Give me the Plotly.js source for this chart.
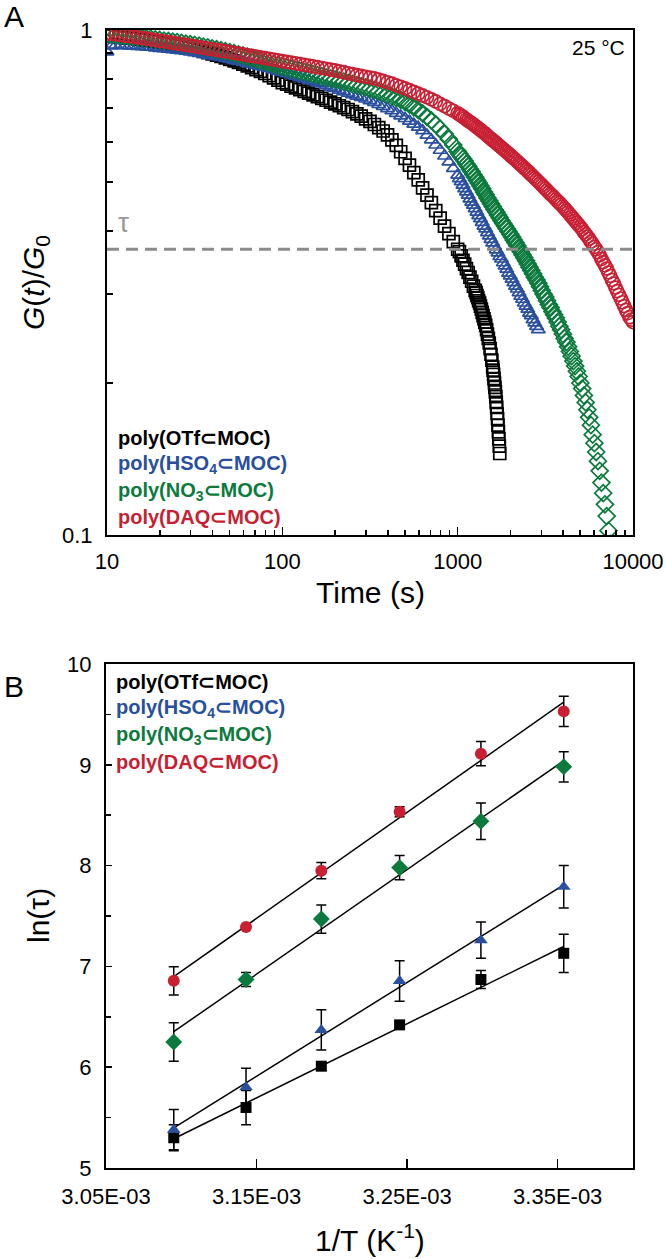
<!DOCTYPE html>
<html>
<head>
<meta charset="utf-8">
<script src="https://cdn.plot.ly/plotly-3.0.1.min.js"></script>
<style>html,body{margin:0;padding:0;background:#fff;}#chart{width:666px;height:1259px;}</style>
</head>
<body>
<div id="chart"></div>
<script>
// ---------- Panel A data: G(t)/G0 vs time (s), 25 °C ----------
// sampling times, 10 s .. 1000 s
const timeEarly = [10, 10.59, 11.22, 11.89, 12.59, 13.34, 14.13, 14.96, 15.85, 16.79,
  17.78, 18.84, 19.95, 21.13, 22.39, 23.71, 25.12, 26.61, 28.18, 29.85,
  31.62, 33.5, 35.48, 37.58, 39.81, 42.17, 44.67, 47.32, 50.12, 53.09,
  56.23, 59.57, 63.1, 66.83, 70.79, 74.99, 79.43, 84.14, 89.13, 94.41,
  100, 105.9, 112.2, 118.9, 125.9, 133.4, 141.3, 149.6, 158.5, 167.9,
  177.8, 188.4, 199.5, 211.3, 223.9, 237.1, 251.2, 266.1, 281.8, 298.5,
  316.2, 335, 354.8, 375.8, 398.1, 421.7, 446.7, 473.2, 501.2, 530.9,
  562.3, 595.7, 631, 668.3, 707.9, 749.9, 794.3, 841.4, 891.3, 944.1,
  1000];
// sampling times, 1023 s .. 10000 s
const timeLate = [1023, 1047, 1072, 1096, 1122, 1148, 1175, 1202, 1230, 1259,
  1288, 1318, 1349, 1380, 1413, 1445, 1479, 1514, 1549, 1585,
  1622, 1660, 1698, 1738, 1778, 1820, 1862, 1905, 1950, 1995,
  2042, 2089, 2138, 2188, 2239, 2291, 2344, 2399, 2455, 2512,
  2570, 2630, 2692, 2754, 2818, 2884, 2951, 3020, 3090, 3162,
  3236, 3311, 3388, 3467, 3548, 3631, 3715, 3802, 3890, 3981,
  4074, 4169, 4266, 4365, 4467, 4571, 4677, 4786, 4898, 5012,
  5129, 5248, 5370, 5495, 5623, 5754, 5888, 6026, 6166, 6310,
  6457, 6607, 6761, 6918, 7079, 7244, 7413, 7586, 7762, 7943,
  8128, 8318, 8511, 8710, 8913, 9120, 9333, 9550, 9772, 10000];

const gOTfEarly = [0.975, 0.972, 0.970, 0.968, 0.966, 0.964, 0.962, 0.960, 0.957, 0.955,
  0.953, 0.950, 0.946, 0.943, 0.940, 0.937, 0.933, 0.929, 0.925, 0.921,
  0.916, 0.912, 0.907, 0.902, 0.897, 0.892, 0.887, 0.881, 0.875, 0.869,
  0.863, 0.856, 0.849, 0.842, 0.835, 0.828, 0.820, 0.812, 0.804, 0.796,
  0.787, 0.781, 0.774, 0.768, 0.762, 0.756, 0.750, 0.744, 0.738, 0.732,
  0.726, 0.720, 0.714, 0.708, 0.702, 0.696, 0.689, 0.682, 0.675, 0.667,
  0.659, 0.650, 0.641, 0.631, 0.620, 0.606, 0.591, 0.574, 0.557, 0.540,
  0.522, 0.505, 0.487, 0.471, 0.455, 0.439, 0.424, 0.409, 0.395, 0.381,
  0.368];
const gOTfLate = [0.364, 0.357, 0.350, 0.344, 0.337, 0.331, 0.324, 0.318, 0.311, 0.305];
// final steepening drop of poly(OTf⊂MOC), closely spaced samples
const timeOTfTail = [1274, 1288, 1303, 1318, 1334, 1349, 1365, 1380, 1396, 1413,
  1429, 1445, 1462, 1479, 1496, 1514, 1531, 1549, 1567, 1585,
  1594, 1603, 1612, 1622, 1631, 1641, 1650, 1660, 1669, 1679,
  1689, 1698, 1708, 1718, 1728, 1738];
const gOTfTail = [0.302, 0.298, 0.295, 0.291, 0.288, 0.284, 0.280, 0.276, 0.272, 0.268,
  0.264, 0.260, 0.255, 0.250, 0.245, 0.240, 0.234, 0.228, 0.222, 0.215,
  0.212, 0.208, 0.204, 0.200, 0.196, 0.192, 0.188, 0.183, 0.179, 0.174,
  0.170, 0.165, 0.160, 0.155, 0.150, 0.145];

const gHSO4Early = [0.905, 0.930, 0.933, 0.932, 0.931, 0.930, 0.929, 0.928, 0.927, 0.926,
  0.925, 0.922, 0.920, 0.918, 0.916, 0.914, 0.912, 0.910, 0.908, 0.905,
  0.902, 0.899, 0.895, 0.892, 0.889, 0.886, 0.883, 0.879, 0.875, 0.871,
  0.867, 0.863, 0.859, 0.855, 0.851, 0.847, 0.843, 0.839, 0.834, 0.829,
  0.824, 0.820, 0.815, 0.810, 0.805, 0.800, 0.796, 0.791, 0.787, 0.782,
  0.776, 0.771, 0.766, 0.760, 0.755, 0.750, 0.745, 0.740, 0.735, 0.730,
  0.725, 0.719, 0.712, 0.706, 0.699, 0.692, 0.684, 0.676, 0.668, 0.660,
  0.651, 0.642, 0.632, 0.619, 0.606, 0.592, 0.578, 0.563, 0.548, 0.532,
  0.516];
const gHSO4Late = [0.508, 0.501, 0.493, 0.485, 0.478, 0.471, 0.463, 0.456, 0.450, 0.443,
  0.436, 0.429, 0.423, 0.416, 0.409, 0.404, 0.397, 0.391, 0.385, 0.379,
  0.373, 0.367, 0.362, 0.356, 0.352, 0.346, 0.341, 0.336, 0.330, 0.326,
  0.321, 0.316, 0.311, 0.307, 0.302, 0.297, 0.293, 0.288, 0.284, 0.280,
  0.275, 0.272, 0.267, 0.263, 0.259, 0.255];

const gNO3Early = [0.982, 0.980, 0.978, 0.976, 0.974, 0.972, 0.970, 0.968, 0.966, 0.963,
  0.961, 0.958, 0.956, 0.953, 0.951, 0.948, 0.946, 0.943, 0.940, 0.937,
  0.934, 0.931, 0.927, 0.924, 0.920, 0.916, 0.912, 0.908, 0.904, 0.900,
  0.895, 0.891, 0.886, 0.881, 0.876, 0.871, 0.866, 0.861, 0.856, 0.851,
  0.846, 0.842, 0.838, 0.834, 0.830, 0.826, 0.822, 0.818, 0.814, 0.810,
  0.806, 0.802, 0.798, 0.794, 0.790, 0.786, 0.782, 0.778, 0.774, 0.770,
  0.765, 0.761, 0.756, 0.751, 0.745, 0.739, 0.733, 0.727, 0.720, 0.712,
  0.703, 0.694, 0.684, 0.673, 0.662, 0.650, 0.637, 0.623, 0.608, 0.592,
  0.575];
const gNO3Late = [0.568, 0.562, 0.556, 0.550, 0.543, 0.537, 0.530, 0.524, 0.517, 0.511,
  0.504, 0.498, 0.491, 0.485, 0.478, 0.472, 0.465, 0.459, 0.453, 0.447,
  0.441, 0.436, 0.430, 0.425, 0.419, 0.414, 0.409, 0.404, 0.399, 0.394,
  0.389, 0.384, 0.379, 0.374, 0.369, 0.364, 0.359, 0.354, 0.349, 0.344,
  0.339, 0.334, 0.329, 0.324, 0.320, 0.315, 0.310, 0.305, 0.300, 0.296,
  0.291, 0.286, 0.282, 0.277, 0.273, 0.269, 0.264, 0.259, 0.255, 0.250,
  0.245, 0.241, 0.236, 0.231, 0.226, 0.221, 0.216, 0.211, 0.206, 0.200,
  0.195, 0.189, 0.183, 0.177, 0.171, 0.165, 0.158, 0.152, 0.146, 0.140,
  0.134, 0.127, 0.121, 0.115, 0.109, 0.102, 0.096];

const gDAQEarly = [0.985, 0.983, 0.980, 0.978, 0.975, 0.973, 0.970, 0.967, 0.964, 0.961,
  0.958, 0.955, 0.952, 0.949, 0.946, 0.943, 0.940, 0.937, 0.934, 0.931,
  0.928, 0.925, 0.922, 0.919, 0.916, 0.913, 0.910, 0.907, 0.904, 0.901,
  0.898, 0.895, 0.892, 0.889, 0.886, 0.883, 0.880, 0.877, 0.874, 0.871,
  0.868, 0.865, 0.862, 0.859, 0.856, 0.853, 0.850, 0.847, 0.844, 0.841,
  0.838, 0.835, 0.832, 0.828, 0.825, 0.821, 0.818, 0.814, 0.811, 0.808,
  0.805, 0.802, 0.798, 0.793, 0.788, 0.783, 0.777, 0.772, 0.766, 0.760,
  0.754, 0.748, 0.742, 0.736, 0.729, 0.722, 0.714, 0.707, 0.699, 0.692,
  0.684];
const gDAQLate = [0.680, 0.677, 0.673, 0.669, 0.665, 0.661, 0.657, 0.654, 0.650, 0.646,
  0.642, 0.638, 0.634, 0.630, 0.626, 0.622, 0.617, 0.613, 0.609, 0.605,
  0.601, 0.597, 0.593, 0.589, 0.585, 0.581, 0.577, 0.573, 0.569, 0.565,
  0.561, 0.557, 0.553, 0.549, 0.545, 0.541, 0.537, 0.533, 0.529, 0.525,
  0.521, 0.517, 0.513, 0.509, 0.505, 0.501, 0.497, 0.493, 0.489, 0.485,
  0.481, 0.477, 0.473, 0.470, 0.466, 0.462, 0.458, 0.455, 0.451, 0.447,
  0.443, 0.439, 0.435, 0.431, 0.427, 0.423, 0.419, 0.415, 0.411, 0.407,
  0.403, 0.398, 0.394, 0.390, 0.386, 0.381, 0.377, 0.372, 0.368, 0.363,
  0.358, 0.352, 0.347, 0.342, 0.337, 0.331, 0.326, 0.320, 0.315, 0.309,
  0.304, 0.299, 0.294, 0.289, 0.284, 0.279, 0.275, 0.270, 0.267, 0.264];

const tauLevel = 0.368;
const timeSpan = [10, 10000];

// ---------- Panel B data: ln(tau) vs 1/T ----------
const invT = [0.003095, 0.003143, 0.003193, 0.003245, 0.003299, 0.003354];
const lnTauOTf  = [5.30, 5.60, 6.01, 6.42, 6.87, 7.13];
const errOTf    = [0.13, 0.17, 0.04, 0.03, 0.09, 0.19];
const lnTauHSO4 = [5.38, 5.80, 6.37, 6.855, 7.26, 7.79];
const errHSO4   = [0.20, 0.19, 0.20, 0.20, 0.18, 0.21];
const lnTauNO3  = [6.25, 6.87, 7.47, 7.98, 8.44, 8.98];
const errNO3    = [0.19, 0.07, 0.14, 0.12, 0.18, 0.15];
const lnTauDAQ  = [6.857, 7.39, 7.95, 8.535, 9.11, 9.53];
const errDAQ    = [0.14, 0.02, 0.08, 0.05, 0.12, 0.15];

const seriesNames = ['poly(OTf⊂MOC)', 'poly(HSO<sub>4</sub>⊂MOC)', 'poly(NO<sub>3</sub>⊂MOC)', 'poly(DAQ⊂MOC)'];
const xTickValsA = [10, 100, 1000, 10000];
const xTickTextA = ['10', '100', '1000', '10000'];
const yTickValsA = [0.1, 1];
const yTickTextA = ['0.1', '1'];
const xTickValsB = [0.00305, 0.00315, 0.00325, 0.00335];
const xTickTextB = ['3.05E-03', '3.15E-03', '3.25E-03', '3.35E-03'];
const yTickValsB = [5, 6, 7, 8, 9, 10];

// ---------- styling ----------
const W = 666, H = 1259;
const px = x => x / W;
const py = y => 1 - y / H;
const FONT = 'Liberation Sans, Arial, Helvetica, sans-serif';
const C = {black: '#000000', blue: '#2a4f9f', green: '#0b7a3c', red: '#c81f33'};
const colors = [C.black, C.blue, C.green, C.red];

function minorLog(decades) {
  const out = [];
  decades.forEach(d => { for (let k = 2; k <= 9; k++) out.push(k * d); });
  return out;
}

function openTrace(t, g, sym, color, size) {
  return {type: 'scatter', mode: 'markers', x: t, y: g, xaxis: 'x', yaxis: 'y',
    marker: {symbol: sym, size: size, color: color, line: {color: color, width: 1.7}},
    showlegend: false, hoverinfo: 'skip'};
}
const early = (g) => timeEarly.slice(0, g.length);
const late = (g) => timeLate.slice(0, g.length);

const traces = [];
traces.push(openTrace(early(gOTfEarly).concat(late(gOTfLate), timeOTfTail),
  gOTfEarly.concat(gOTfLate, gOTfTail), 'square-open', C.black, 12));
traces.push(openTrace(early(gHSO4Early).concat(late(gHSO4Late)),
  gHSO4Early.concat(gHSO4Late), 'triangle-up-open', C.blue, 12));
traces.push(openTrace(early(gNO3Early).concat(late(gNO3Late)),
  gNO3Early.concat(gNO3Late), 'diamond-open', C.green, 13));
traces.push(openTrace(early(gDAQEarly).concat(late(gDAQLate)),
  gDAQEarly.concat(gDAQLate), 'circle-open', C.red, 13));
traces.push({type: 'scatter', mode: 'lines', x: timeSpan, y: [tauLevel, tauLevel], xaxis: 'x', yaxis: 'y',
  line: {color: '#8c8c8c', width: 3, dash: '12px,7px'}, showlegend: false, hoverinfo: 'skip'});

// Panel B
function fit(x, y) {
  const n = x.length;
  const mx = x.reduce((a, b) => a + b, 0) / n;
  const my = y.reduce((a, b) => a + b, 0) / n;
  let sxy = 0, sxx = 0;
  for (let i = 0; i < n; i++) { sxy += (x[i] - mx) * (y[i] - my); sxx += (x[i] - mx) ** 2; }
  const m = sxy / sxx;
  return v => my + m * (v - mx);
}
const bSeries = [
  {y: lnTauOTf, e: errOTf, sym: 'square', size: 11},
  {y: lnTauHSO4, e: errHSO4, sym: 'triangle-up', size: 12},
  {y: lnTauNO3, e: errNO3, sym: 'diamond', size: 13},
  {y: lnTauDAQ, e: errDAQ, sym: 'circle', size: 12}
];
bSeries.forEach(s => {
  const f = fit(invT, s.y);
  const xe = [invT[0], invT[invT.length - 1]];
  traces.push({type: 'scatter', mode: 'lines', x: xe, y: xe.map(f), xaxis: 'x2', yaxis: 'y2',
    line: {color: '#000', width: 1.5}, showlegend: false, hoverinfo: 'skip'});
});
bSeries.forEach((s, i) => {
  traces.push({type: 'scatter', mode: 'markers', x: invT, y: s.y, xaxis: 'x2', yaxis: 'y2',
    error_y: {type: 'data', array: s.e, visible: true, color: '#000', thickness: 1.5, width: 5},
    marker: {symbol: s.sym, size: s.size, color: colors[i]}, showlegend: false, hoverinfo: 'skip'});
});

const axisCommon = {showline: true, linecolor: '#000', linewidth: 2, mirror: true,
  ticks: 'inside', tickcolor: '#000', tickwidth: 1.5, showgrid: false, zeroline: false,
  tickfont: {family: FONT, size: 22, color: '#000'}};

const annotations = [];
function ann(text, x, y, opts) {
  annotations.push(Object.assign({text: text, x: px(x), y: py(y), xref: 'paper', yref: 'paper',
    showarrow: false, xanchor: 'center', yanchor: 'middle',
    font: {family: FONT, size: 22, color: '#000'}}, opts || {}));
}
ann('A', 2, 16, {xanchor: 'left', font: {family: FONT, size: 30, color: '#000'}});
ann('B', 2, 686, {xanchor: 'left', font: {family: FONT, size: 30, color: '#000'}});
ann('25 °C', 627, 48, {xanchor: 'right', font: {family: FONT, size: 21, color: '#000'}});
ann('τ', 123, 222, {font: {family: FONT, size: 28, color: '#9a9a9a'}});
ann('Time (s)', 370, 592, {font: {family: FONT, size: 30, color: '#000'}});
ann('1/T (K<sup>-1</sup>)', 370, 1238, {font: {family: FONT, size: 30, color: '#000'}});
ann('<i>G</i>(<i>t</i>)/<i>G</i><sub>0</sub>', 36, 283, {textangle: -90, font: {family: FONT, size: 30, color: '#000'}});
ann('ln(τ)', 38, 916, {textangle: -90, font: {family: FONT, size: 30, color: '#000'}});
const legA = [438, 464, 491, 517];
const legB = [682, 708, 735, 762];
seriesNames.forEach((nm, i) => {
  ann('<b>' + nm + '</b>', 116, legA[i], {xanchor: 'left', font: {family: FONT, size: 20, color: colors[i]}});
  ann('<b>' + nm + '</b>', 114, legB[i], {xanchor: 'left', font: {family: FONT, size: 20, color: colors[i]}});
});

const layout = {
  width: W, height: H, margin: {l: 0, r: 0, t: 0, b: 0},
  paper_bgcolor: '#fff', plot_bgcolor: '#fff', showlegend: false,
  xaxis: Object.assign({}, axisCommon, {type: 'log', range: [1, 4], domain: [px(107), px(633)], anchor: 'y',
    tickmode: 'array', tickvals: xTickValsA, ticktext: xTickTextA, ticklen: 8, ticklabelstandoff: 6,
    minor: {tickmode: 'array', tickvals: minorLog([10, 100, 1000]), ticks: 'inside', ticklen: 5, tickwidth: 1.5, tickcolor: '#000'}}),
  yaxis: Object.assign({}, axisCommon, {type: 'log', range: [-1, 0], domain: [py(535), py(30)], anchor: 'x',
    tickmode: 'array', tickvals: yTickValsA, ticktext: yTickTextA, ticklen: 6, ticklabelstandoff: 8,
    minor: {tickmode: 'array', tickvals: minorLog([0.1]), ticks: 'inside', ticklen: 6, tickwidth: 1.5, tickcolor: '#000'}}),
  xaxis2: Object.assign({}, axisCommon, {range: [0.00305, 0.0034], domain: [px(106), px(633)], anchor: 'y2',
    tickmode: 'array', tickvals: xTickValsB, ticktext: xTickTextB, ticklen: 9, ticklabelstandoff: 8}),
  yaxis2: Object.assign({}, axisCommon, {range: [5, 10], domain: [py(1168), py(664)], anchor: 'x2',
    tickmode: 'array', tickvals: yTickValsB, ticklen: 6, ticklabelstandoff: 8,
    minor: {tickmode: 'array', tickvals: [5.5, 6.5, 7.5, 8.5, 9.5], ticks: 'inside', ticklen: 5, tickwidth: 1.5, tickcolor: '#000'}}),
  annotations: annotations
};

Plotly.newPlot('chart', traces, layout, {staticPlot: true, displayModeBar: false});
</script>
</body>
</html>
